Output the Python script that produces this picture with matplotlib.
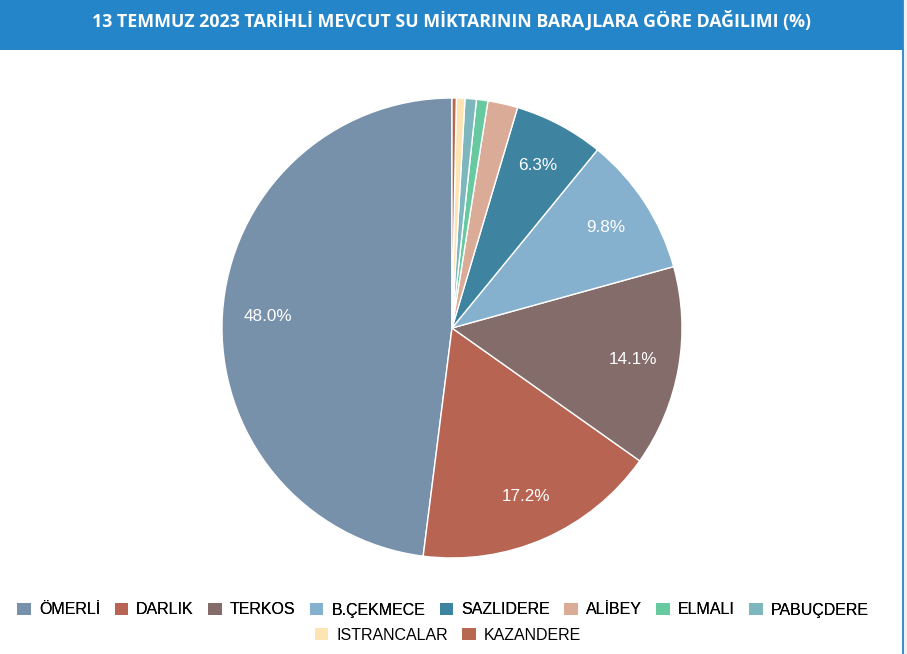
import matplotlib
matplotlib.use("Agg")
import matplotlib.pyplot as plt
from matplotlib.patches import Rectangle, Patch

# reservoir share of current water volume (%), 13 July 2023
labels = ["ÖMERLİ", "DARLIK", "TERKOS", "B.ÇEKMECE", "SAZLIDERE",
          "ALİBEY", "ELMALI", "PABUÇDERE", "ISTRANCALAR", "KAZANDERE"]
values = [48.0, 17.2, 14.1, 9.8, 6.3, 2.1, 0.8, 0.8, 0.6, 0.3]
colors = ["#7891ab", "#b76453", "#836c6a", "#86b1ce", "#3e83a0",
          "#daac97", "#66c9a0", "#7db6bc", "#fde4b3", "#b8684f"]
title = "13 TEMMUZ 2023 TARİHLİ MEVCUT SU MİKTARININ BARAJLARA GÖRE DAĞILIMI (%)"

W, H = 907, 654
fig = plt.figure(figsize=(W / 100, H / 100), dpi=100)
fig.patch.set_facecolor("#f1f1f1")

# white panel + blue header (behind the axes)
fig.add_artist(Rectangle((0, 0), 903 / W, 1, transform=fig.transFigure,
                         facecolor="white", edgecolor="none", zorder=-10))
fig.add_artist(Rectangle((902 / W, 0), 1.5 / W, 1, transform=fig.transFigure,
                         facecolor="#3d8fd0", edgecolor="none", zorder=-9))
fig.add_artist(Rectangle((0, 1 - 50 / H), 903 / W, 50 / H, transform=fig.transFigure,
                         facecolor="#2585c9", edgecolor="none", zorder=-8))
fig.text(452 / W, 1 - 21 / H, title, ha="center", va="center", color="white",
         fontsize=12.8, fontweight="bold", family="Open Sans")

# pie
cx, cy, r = 452, 328, 230
ax = fig.add_axes([(cx - r) / W, (H - cy - r) / H, 2 * r / W, 2 * r / H])
wedges, texts, autotexts = ax.pie(
    values, colors=colors, startangle=90, counterclock=True,
    autopct=lambda p: f"{p:.1f}%" if p >= 5 else "", pctdistance=0.8,
    wedgeprops=dict(edgecolor="white", linewidth=1),
    textprops=dict(color="white", fontsize=12.3, family="Liberation Sans"))
ax.set_xlim(-1, 1)
ax.set_ylim(-1, 1)
ax.set_aspect("equal")
ax.axis("off")

# legend in two centred rows
handles = [Patch(facecolor=c, edgecolor="none") for c in colors]
kw = dict(frameon=False, handlelength=0.85, handleheight=0.85, handletextpad=0.5,
          columnspacing=0.9, prop=dict(family="Liberation Sans", size=11.5))
leg1 = fig.legend(handles[:8], labels[:8], loc="center", ncol=8,
                  bbox_to_anchor=(443 / W, 1 - 610 / H), **kw)
fig.add_artist(leg1)
fig.legend(handles[8:], labels[8:], loc="center", ncol=2,
           bbox_to_anchor=(448 / W, 1 - 635 / H), **kw)

fig.savefig("out.png", dpi=100)
